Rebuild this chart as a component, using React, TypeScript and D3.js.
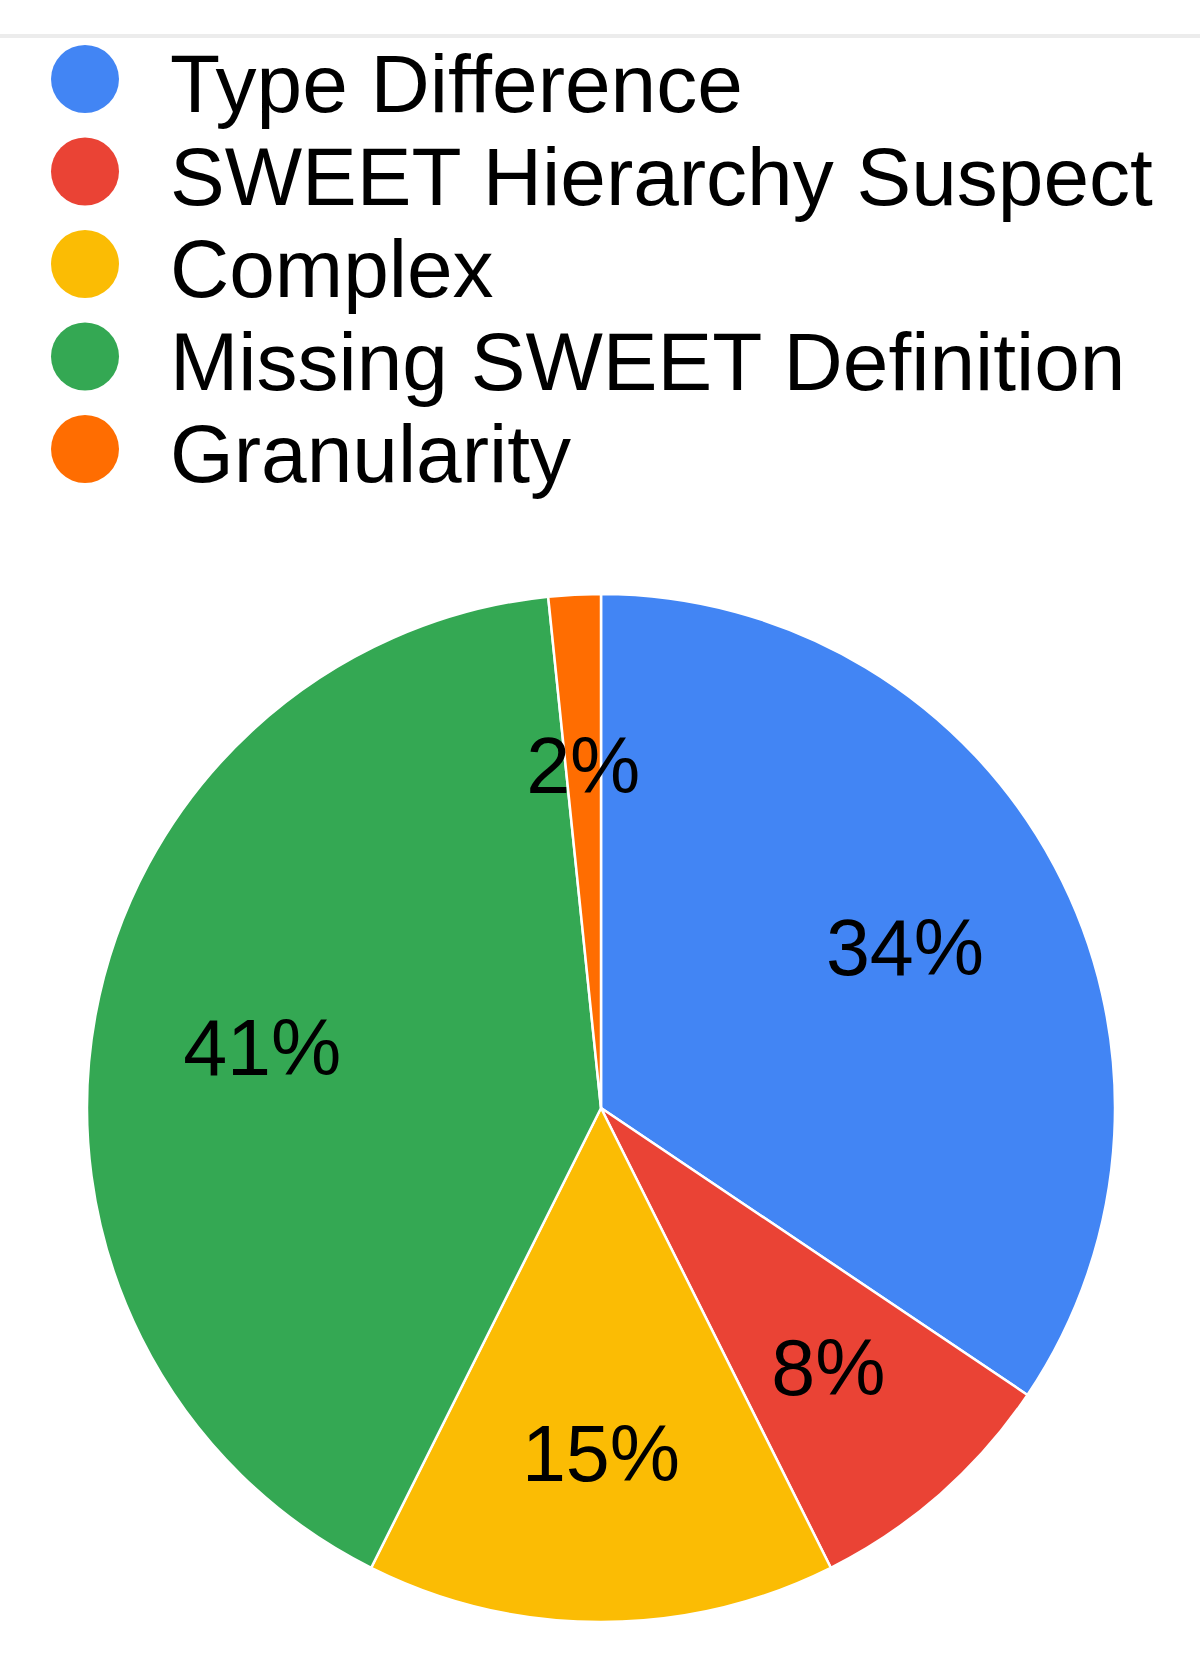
import { useEffect, useRef } from 'react';
import * as d3 from 'd3';

const categories = [
  'Type Difference',
  'SWEET Hierarchy Suspect',
  'Complex',
  'Missing SWEET Definition',
  'Granularity',
];
const counts = [21, 5, 9, 25, 1];
const colors = ['#4285f4', '#ea4335', '#fbbc04', '#34a853', '#ff6d01'];

interface Slice {
  name: string;
  value: number;
  color: string;
}

export default function App() {
  const svgRef = useRef<SVGSVGElement>(null);

  useEffect(() => {
    if (!svgRef.current) return;
    const width = 1200;
    const height = 1664;
    const data: Slice[] = categories.map((name, i) => ({ name, value: counts[i], color: colors[i] }));
    const total = d3.sum(counts);

    const svg = d3.select(svgRef.current);
    svg.selectAll('*').remove();
    svg.attr('width', width).attr('height', height);

    svg.append('rect').attr('width', width).attr('height', height).attr('fill', '#ffffff');

    // thin grey rule at the top
    svg.append('line')
      .attr('x1', 0).attr('x2', width)
      .attr('y1', 36).attr('y2', 36)
      .attr('stroke', '#ececec')
      .attr('stroke-width', 4);

    // legend
    const legendY = d3.scalePoint<string>().domain(categories).range([79, 449]);
    const legend = svg.append('g').attr('font-family', 'Arial, "Liberation Sans", sans-serif');
    const rows = legend.selectAll('g.row')
      .data(data)
      .enter()
      .append('g')
      .attr('class', 'row')
      .attr('transform', (d) => `translate(0,${legendY(d.name)})`);
    rows.append('circle')
      .attr('cx', 85)
      .attr('cy', 0)
      .attr('r', 34)
      .attr('fill', (d) => d.color);
    rows.append('text')
      .attr('x', 170)
      .attr('y', 33)
      .attr('font-size', 82)
      .attr('fill', '#000000')
      .text((d) => d.name);

    // pie
    const cx = 601;
    const cy = 1108;
    const radius = 514;
    const g = svg.append('g').attr('transform', `translate(${cx},${cy})`);

    const pie = d3.pie<Slice>().value((d) => d.value).sort(null);
    const arc = d3.arc<d3.PieArcDatum<Slice>>().innerRadius(0).outerRadius(radius);
    const labelArc = d3.arc<d3.PieArcDatum<Slice>>().innerRadius(radius * 0.67).outerRadius(radius * 0.67);

    const arcs = pie(data);
    g.selectAll('path')
      .data(arcs)
      .enter()
      .append('path')
      .attr('d', arc)
      .attr('fill', (d) => d.data.color)
      .attr('stroke', '#ffffff')
      .attr('stroke-width', 2.5)
      .attr('stroke-linejoin', 'round');

    g.selectAll('text')
      .data(arcs)
      .enter()
      .append('text')
      .attr('transform', (d) => `translate(${labelArc.centroid(d)})`)
      .attr('text-anchor', 'middle')
      .attr('dy', '0.36em')
      .attr('font-family', 'Arial, "Liberation Sans", sans-serif')
      .attr('font-size', 79)
      .attr('fill', '#000000')
      .text((d) => `${Math.round((d.data.value / total) * 100)}%`);
  }, []);

  return (
    <div>
      <style>{'body{margin:0}'}</style>
      <svg ref={svgRef} style={{ display: 'block' }} />
    </div>
  );
}
